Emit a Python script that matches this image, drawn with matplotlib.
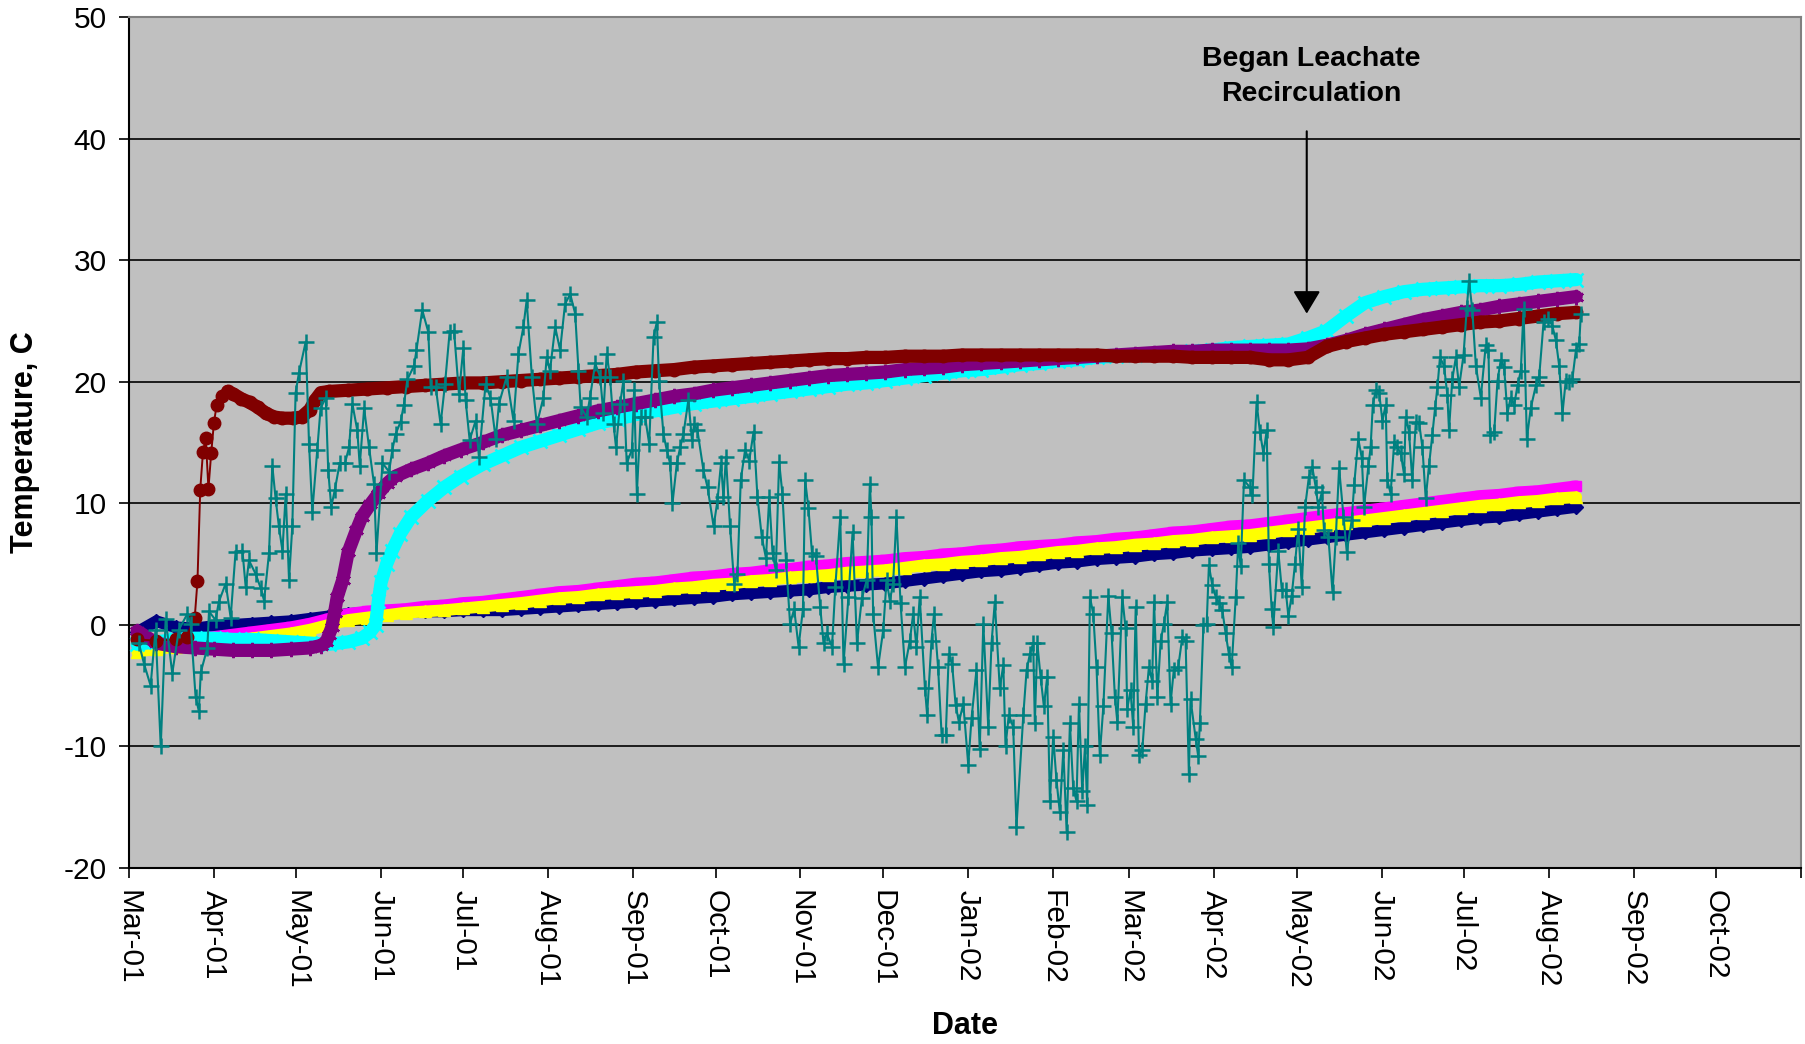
import datetime as dt
import matplotlib
matplotlib.use("Agg")
import matplotlib.pyplot as plt
import matplotlib.dates as mdates
import numpy as np

plt.rcParams['font.family'] = ['Liberation Sans', 'DejaVu Sans']
plt.rcParams['axes.unicode_minus'] = False

# all x values are day offsets from 1 March 2001
start = dt.date(2001, 3, 1)

tick_labels = ['Mar-01', 'Apr-01', 'May-01', 'Jun-01', 'Jul-01', 'Aug-01', 'Sep-01',
               'Oct-01', 'Nov-01', 'Dec-01', 'Jan-02', 'Feb-02', 'Mar-02', 'Apr-02',
               'May-02', 'Jun-02', 'Jul-02', 'Aug-02', 'Sep-02', 'Oct-02', '']

# weekly readings
wk_days = list(range(3, 529, 7))
late_days = list(range(143, 529, 7))

navy_vals = [-0.6, 0.3, -0.2, -0.3, -0.1, 0.0, 0.1, 0.2, 0.3, 0.5,
             0.7, 0.9, 1.0, 1.0, 1.1, 1.1, 1.1, 1.2, 1.2, 1.2,
             1.3, 1.4, 1.5, 1.6, 1.7, 1.8, 1.9, 2.0, 2.1, 2.2,
             2.3, 2.5, 2.6, 2.7, 2.8, 2.9, 3.1, 3.2, 3.3, 3.4,
             3.6, 3.8, 4.0, 4.2, 4.4, 4.5, 4.7, 4.9, 5.1, 5.2,
             5.4, 5.5, 5.6, 5.8, 5.9, 6.1, 6.2, 6.3, 6.4, 6.6,
             6.8, 7.0, 7.2, 7.4, 7.6, 7.8, 8.0, 8.2, 8.4, 8.6,
             8.8, 8.9, 9.1, 9.3, 9.5, 9.7]

magenta_vals = [-1.7, -1.6, -1.4, -1.2, -1.0, -0.8, -0.6, -0.4, -0.2, 0.1,
                0.5, 0.9, 1.1, 1.2, 1.3, 1.5, 1.6, 1.8, 1.9, 2.1,
                2.3, 2.5, 2.7, 2.8, 3.0, 3.2, 3.4, 3.5, 3.7, 3.9,
                4.0, 4.2, 4.3, 4.5, 4.6, 4.8, 4.9, 5.1, 5.2, 5.3,
                5.5, 5.6, 5.8, 5.9, 6.1, 6.2, 6.4, 6.5, 6.6, 6.8,
                6.9, 7.1, 7.2, 7.4, 7.6, 7.7, 7.9, 8.1, 8.2, 8.4,
                8.6, 8.8, 9.0, 9.2, 9.4, 9.6, 9.8, 10.0, 10.2, 10.4,
                10.6, 10.7, 10.9, 11.0, 11.2, 11.4]

yellow_vals = [-2.2, -2.0, -1.8, -1.6, -1.4, -1.3, -1.1, -0.9, -0.7, -0.4,
               0.0, 0.4, 0.6, 0.8, 1.0, 1.1, 1.2, 1.35, 1.5, 1.65,
               1.8, 2.0, 2.2, 2.3, 2.5, 2.6, 2.7, 2.8, 3.0, 3.1,
               3.3, 3.4, 3.6, 3.7, 3.9, 4.0, 4.1, 4.3, 4.4, 4.5,
               4.7, 4.9, 5.0, 5.2, 5.3, 5.5, 5.6, 5.8, 6.0, 6.1,
               6.3, 6.4, 6.6, 6.7, 6.9, 7.0, 7.2, 7.3, 7.4, 7.6,
               7.8, 8.0, 8.2, 8.4, 8.6, 8.8, 9.0, 9.2, 9.4, 9.6,
               9.8, 9.9, 10.1, 10.2, 10.4, 10.5]

cyan_days = [3, 10, 17, 24, 31, 38, 45, 52, 59, 66, 73, 80, 85, 88, 90, 91, 92,
             94, 96, 99, 103, 109, 115, 121, 129, 136] + late_days
cyan_vals = [-1.6, -1.4, -1.2, -1.1, -1.1, -1.2, -1.2, -1.3, -1.4, -1.5, -1.6,
             -1.4, -1.1, -0.6, 0.0, 2.0, 3.5, 5.0, 6.1, 7.5, 8.9, 10.2, 11.3,
             12.2, 13.2, 13.9,
             14.6, 15.1, 15.6, 16.1, 16.6, 16.9, 17.3, 17.6, 17.9, 18.2,
             18.4, 18.6, 18.8, 19.0, 19.2, 19.4, 19.6, 19.8, 19.9, 20.1,
             20.3, 20.5, 20.7, 20.9, 21.0, 21.2, 21.4, 21.5, 21.7, 21.8,
             22.0, 22.1, 22.2, 22.3, 22.4, 22.5, 22.6, 22.8, 22.9, 23.0,
             23.1, 23.6, 24.2, 25.4, 26.5, 27.0, 27.4, 27.6, 27.7, 27.8,
             27.9, 27.9, 28.0, 28.2, 28.3, 28.4]

purple_days = [3, 10, 17, 24, 31, 38, 45, 52, 59, 66, 70, 72, 73, 74, 75, 76,
               78, 80, 83, 85, 88, 91, 94, 97, 103, 109, 115, 121, 129, 136] + late_days
purple_vals = [-0.5, -1.5, -1.8, -1.9, -2.0, -2.1, -2.1, -2.1, -2.0, -1.9,
               -1.7, -1.4, -0.8, -0.2, 1.0, 2.3, 3.7, 6.0, 7.8, 8.9,
               9.9, 10.8, 11.6, 12.2, 12.8, 13.3, 13.9, 14.4, 15.0, 15.6,
               16.0, 16.4, 16.8, 17.2, 17.6, 17.9, 18.2, 18.5, 18.8, 19.0,
               19.3, 19.5, 19.7, 19.9, 20.1, 20.3, 20.5, 20.6, 20.7, 20.8,
               21.0, 21.1, 21.2, 21.4, 21.5, 21.6, 21.7, 21.8, 21.9, 22.0,
               22.1, 22.2, 22.3, 22.4, 22.5, 22.5, 22.6, 22.6, 22.6, 22.6,
               22.6, 22.7, 23.0, 23.4, 23.9, 24.3, 24.7, 25.1, 25.4, 25.7,
               25.9, 26.2, 26.4, 26.6, 26.8, 27.0]

maroon_days = [3, 10, 17, 21, 24, 25, 26, 27, 28, 29, 30, 31, 32, 34, 36, 38,
               41, 44, 47, 50, 53, 56, 60, 63, 66, 68, 70, 73, 80, 87, 94, 101,
               108, 115, 122, 129, 136] + late_days
maroon_vals = [-1.2, -1.3, -1.2, -1.0, 0.6, 3.6, 11.1, 14.2, 15.4, 11.2,
               14.1, 16.6, 18.1, 18.8, 19.2, 19.0, 18.6, 18.3, 17.9, 17.4,
               17.1, 17.0, 17.0, 17.1, 17.7, 18.5, 19.1, 19.2, 19.3, 19.4,
               19.5, 19.6, 19.7, 19.8, 19.9, 19.9, 20.0,
               20.1, 20.2, 20.3, 20.4, 20.5, 20.6, 20.8, 20.9, 21.0, 21.2,
               21.3, 21.4, 21.5, 21.6, 21.7, 21.8, 21.9, 21.9, 22.0, 22.0,
               22.1, 22.1, 22.1, 22.2, 22.2, 22.2, 22.2, 22.2, 22.2, 22.2,
               22.2, 22.1, 22.1, 22.1, 22.1, 22.0, 22.0, 22.0, 22.0, 21.8,
               21.8, 22.0, 22.9, 23.3, 23.6, 23.9, 24.1, 24.3, 24.5, 24.7,
               24.9, 25.0, 25.2, 25.4, 25.6, 25.7]

# near-daily air temperature readings
teal_days = [3.6, 5.5, 7.9, 9.7, 11.6, 13.4, 15.8, 18.2, 21.3, 22.5, 24.3, 25.5, 26.2,
             28.6, 29.2, 31.6, 32.8, 35.3, 37.1, 38.9, 41.4, 42.6, 43.8, 46.2, 48.1,
             49.3, 51.1, 52.3, 53.5, 54.7, 56.0, 57.2, 58.4, 59.6, 60.8, 62.0, 64.5,
             65.7, 66.9, 68.7, 69.9, 71.8, 72.7, 73.8, 75.1, 76.9, 78.8, 80.3, 81.5,
             83.3, 84.2, 85.8, 87.6, 89.4, 90.3, 92.5, 94.9, 96.1, 97.3, 99.1, 100.3,
             101.6, 104.0, 104.9, 107.0, 109.2, 110.1, 111.9, 113.7, 115.3, 117.0,
             118.6, 120.4, 122.0, 122.8, 124.3, 126.5, 127.7, 130.1, 131.9, 133.8,
             135.0, 137.8, 140.3, 142.1, 143.9, 145.1, 147.0, 148.8, 151.2, 152.4,
             153.6, 155.5, 157.3, 159.1, 161.0, 162.8, 164.0, 164.8, 167.0, 168.2,
             170.1, 171.9, 173.1, 174.3, 175.5, 176.8, 177.7, 179.2, 180.4, 181.6,
             183.5, 184.3, 185.3, 186.7, 188.3, 189.8, 191.4, 192.6, 193.4, 195.0,
             196.2, 197.4, 198.3, 199.9, 201.1, 202.3, 204.1, 205.4, 206.2, 207.4,
             209.6, 211.1, 213.3, 214.7, 216.0, 216.9, 217.8, 219.3, 220.8, 222.0,
             223.2, 224.8, 226.3, 227.9, 229.3, 230.9, 232.4, 233.6, 234.8, 236.0,
             237.2, 238.4, 239.7, 241.2, 242.7, 244.3, 245.9, 246.7, 247.9, 249.2,
             250.6, 252.2, 253.4, 254.6, 256.5, 257.7, 259.5, 260.7, 262.5, 264.0,
             265.6, 267.4, 269.2, 270.3, 270.9, 271.5, 273.3, 275.2, 276.4, 277.6,
             278.8, 280.0, 281.5, 283.1, 284.9, 286.1, 287.3, 288.5, 290.4, 291.2,
             292.8, 293.7, 295.2, 296.5, 298.0, 299.1, 300.3, 301.6, 302.8, 304.4,
             306.2, 307.4, 309.2, 310.4, 311.7, 313.5, 314.7, 315.9, 317.7, 319.0,
             319.8, 321.0, 322.6, 323.8, 326.3, 327.5, 328.7, 329.9, 330.5, 331.4,
             332.6, 333.8, 335.0, 336.0, 337.2, 338.4, 339.6, 340.9, 342.1, 343.3,
             344.5, 345.7, 346.6, 347.8, 348.8, 349.6, 350.6, 351.8, 353.0, 354.2,
             355.5, 357.3, 358.5, 359.7, 360.6, 362.4, 363.6, 364.2, 365.4, 366.4,
             367.3, 368.5, 369.7, 370.9, 372.1, 373.3, 374.0, 375.2, 376.4, 377.6,
             378.8, 380.0, 381.2, 382.8, 384.3, 385.5, 386.7, 387.3, 389.2, 390.1,
             390.7, 392.0, 393.2, 394.0, 395.2, 396.5, 397.7, 398.9, 400.1, 401.3,
             402.3, 403.8, 404.7, 405.6, 406.8, 409.0, 409.9, 411.4, 412.6, 413.9,
             415.1, 415.9, 416.9, 417.5, 419.3, 420.6, 422.0, 423.0, 424.2, 425.4,
             426.6, 427.9, 429.1, 430.5, 431.7, 433.0, 433.9, 435.2, 436.0, 437.6,
             439.1, 440.3, 441.5, 443.1, 444.3, 446.1, 447.0, 448.5, 449.8, 450.6,
             452.2, 453.0, 453.8, 454.9, 456.1, 457.3, 458.5, 459.1, 460.3, 461.6,
             462.8, 464.0, 465.2, 465.8, 467.0, 468.2, 469.5, 470.7, 471.9, 473.1,
             474.3, 475.5, 476.5, 477.4, 478.3, 479.8, 481.0, 481.6, 482.8, 484.1,
             485.3, 486.9, 488.1, 488.9, 490.1, 491.4, 493.2, 495.0, 496.0, 496.6,
             498.1, 499.3, 500.5, 501.7, 502.9, 504.1, 505.4, 506.6, 507.8, 508.8,
             510.0, 511.4, 513.3, 514.5, 516.1, 517.9, 519.3, 520.6, 521.8, 523.0,
             524.2, 525.4, 526.6, 527.9, 529.1, 529.7]
teal_vals = [-1.5, -3.2, -5.0, -0.4, -10.0, 0.5, -4.0, -0.4, 0.9, 0.1, -5.9, -7.1, -3.9,
             -1.9, 1.1, 0.4, 1.9, 3.4, 0.6, 6.0, 6.1, 3.1, 5.3, 4.2, 3.0,
             2.0, 5.9, 13.1, 10.4, 8.1, 6.1, 10.8, 3.7, 8.1, 19.1, 20.7, 23.3,
             14.9, 9.3, 14.4, 17.8, 18.7, 12.7, 9.7, 11.1, 13.3, 13.3, 14.6, 18.2,
             16.0, 13.1, 17.8, 14.6, 11.6, 5.9, 13.3, 12.6, 14.4, 15.7, 16.7, 18.1,
             20.2, 21.3, 22.6, 25.9, 24.1, 19.6, 19.6, 16.5, 19.8, 24.1,
             24.2, 19.0, 22.8, 18.5, 15.2, 16.8, 13.8, 19.8, 18.7, 15.3,
             18.2, 20.4, 16.8, 22.3, 24.5, 26.7, 20.4, 16.5, 18.7, 22.0,
             20.9, 24.5, 22.6, 26.4, 27.2, 25.6, 20.9, 17.9, 17.1, 18.7,
             21.5, 20.4, 17.4, 22.3, 20.4, 16.5, 14.6, 18.2, 20.1, 13.3,
             14.4, 19.3, 10.8, 17.1, 17.1, 14.9, 23.7, 24.9, 20.1, 15.7,
             14.4, 13.3, 10.0, 13.3, 14.6, 15.7, 18.5, 15.2, 16.5, 16.0,
             12.7, 11.3, 8.1, 10.2, 13.3, 10.5, 13.8, 8.1, 3.4, 4.2,
             11.9, 14.4, 13.5, 15.9, 10.5, 7.2, 5.5, 10.5, 5.9, 4.5,
             13.4, 10.8, 5.3, 0.1, 1.3, -1.8, 1.3, 11.9, 9.6, 5.9,
             5.7, 1.5, -1.5, -0.7, -1.8, 3.1, 8.9, -3.2, 2.3, 7.6,
             -1.5, 2.2, 3.7, 11.6, 8.9, 0.9, -3.5, -0.4, 3.7, 2.0,
             3.4, 8.9, 1.8, -3.5, -1.3, 0.9, -1.8, 2.3, -5.2, -7.4,
             -1.3, 0.9, -3.5, -9.1, -9.1, -2.4, -3.2, -6.6, -8.0, -6.5,
             -11.5, -7.7, -3.7, -10.2, 0.1, -8.4, -1.5, 1.9, -5.2, -3.3,
             -10.0, -7.4, -8.4, -16.6, -7.4, -3.7, -2.4, -1.5, -8.1, -1.5,
             -4.3, -6.7, -4.3, -14.5, -9.2, -12.8, -15.4, -10.3, -17.0, -8.1,
             -13.4, -14.5, -6.5, -13.7, -10.0, -14.8, 2.3, 0.9, -3.5, -10.7,
             -6.7, 2.4, -0.7, -5.9, -8.0, 2.3, -0.3, -6.9, -5.4, -8.4,
             1.5, -10.7, -10.3, -6.5, -3.5, -4.6, 1.9, -5.9, -1.3, 0.1,
             1.9, -6.5, -3.7, -3.5, -1.0, -1.3, -12.3, -6.1, -9.4, -10.8,
             -8.1, 0.0, 0.1, 4.9, 3.3, 2.3, 1.8, 1.2, -0.7, -2.4,
             -3.5, 2.3, 6.7, 4.8, 11.9, 11.3, 10.7, 18.3, 15.9, 14.1,
             16.0, 5.0, 1.3, -0.2, 6.1, 2.9, 2.9, 0.7, 2.4, 5.0,
             7.9, 3.1, 9.7, 12.2, 13.0, 11.3, 9.7, 10.9, 7.8, 7.2,
             2.7, 7.2, 12.9, 8.9, 6.0, 8.6, 11.5, 15.3, 13.7, 9.7,
             13.1, 14.6, 18.1, 19.3, 19.1, 16.8, 18.1, 11.9, 10.8, 15.0,
             14.6, 14.1, 12.4, 17.1, 15.9, 11.9, 16.7, 16.6, 14.6, 10.4,
             13.1, 15.6, 17.8, 19.6, 22.0, 21.3, 18.9, 16.0, 20.2, 22.0,
             19.6, 22.2, 26.1, 28.3, 25.9, 21.3, 18.7, 23.0, 22.6, 15.6,
             15.9, 20.1, 21.8, 21.2, 17.4, 18.7, 18.1, 19.7, 20.9, 26.0,
             15.3, 17.8, 19.7, 20.4, 24.9, 25.2, 24.6, 23.4, 21.3, 17.4,
             20.1, 20.0, 20.2, 22.6, 23.1, 25.6]

base = mdates.date2num(start)


def to_x(days):
    return base + np.asarray(days, dtype=float)


fig = plt.figure(figsize=(18.06, 10.44), dpi=100)
ax = fig.add_axes([0.0714, 0.1686, 0.9258, 0.8151])
ax.set_facecolor('#C0C0C0')


def band(days, vals, color, marker, ms, lw, z, mew=1.0):
    x = to_x(days)
    ax.plot(x, vals, color=color, lw=lw, solid_capstyle='round',
            solid_joinstyle='round', zorder=z)
    ax.plot(x, vals, ls='none', marker=marker, ms=ms, color=color,
            mec=color, mew=mew, zorder=z)


band(wk_days, navy_vals, '#000080', 'D', 7, 8.5, 2)
band(wk_days, magenta_vals, '#FF00FF', 's', 7, 8.5, 3)
band(wk_days, yellow_vals, '#FFFF00', '^', 8, 8.5, 4)
band(cyan_days, cyan_vals, '#00FFFF', 'x', 10, 9.5, 5, mew=1.8)
band(purple_days, purple_vals, '#800080', (6, 2, 0), 11, 9.5, 6, mew=1.8)

# maroon: thin line through the early jump, thick band afterwards
mx = to_x(maroon_days)
ax.plot(mx, maroon_vals, color='#800000', lw=1.4, marker='o', ms=9, zorder=7)
k = maroon_days.index(36)
ax.plot(mx[k:], maroon_vals[k:], color='#800000', lw=9.5,
        solid_capstyle='round', zorder=7)

ax.plot(to_x(teal_days), teal_vals, color='#008080', lw=1.5, marker='+',
        ms=11, mew=1.8, zorder=8)

# axes
months = [dt.date(2001 + (2 + i) // 12, (2 + i) % 12 + 1, 1) for i in range(21)]
ax.set_xlim(mdates.date2num(months[0]), mdates.date2num(months[-1]))
ax.set_xticks(mdates.date2num(months))
ax.set_xticklabels(tick_labels, rotation=-90, ha='center', va='top', fontsize=21.5)
ax.set_ylim(-20, 50)
ax.set_yticks(range(-20, 51, 10))
ax.tick_params(axis='y', labelsize=21.5, pad=9)
ax.tick_params(axis='both', direction='out', length=7, width=1.2, color='black')
ax.tick_params(axis='x', pad=9)

ax.yaxis.grid(True, color='black', lw=1.2)
ax.set_axisbelow(True)
for s in ['left', 'bottom']:
    ax.spines[s].set_color('black')
    ax.spines[s].set_linewidth(1.5)
for s in ['top', 'right']:
    ax.spines[s].set_color('#808080')
    ax.spines[s].set_linewidth(1.5)

ax.set_xlabel('Date', fontsize=22, fontweight='bold')
ax.xaxis.set_label_coords(0.5, -0.186)
ax.xaxis.label.set_va('center')
ax.set_ylabel('Temperature, C', fontsize=22, fontweight='bold')
ax.yaxis.set_label_coords(-0.062, 0.5)
ax.yaxis.label.set_va('center')

# annotation
ax.annotate('', xy=(to_x(429.7), 25.6), xytext=(to_x(429.7), 40.6),
            arrowprops=dict(arrowstyle='-|>,head_length=0.7,head_width=0.42',
                            color='black', lw=1.5, mutation_scale=20,
                            shrinkA=0, shrinkB=0), zorder=9)
ax.text(to_x(431.2), 45.1, 'Began Leachate\nRecirculation', ha='center', va='center',
        fontsize=20.5, fontweight='bold', linespacing=1.45, zorder=9)

plt.savefig('out.png', dpi=100)
